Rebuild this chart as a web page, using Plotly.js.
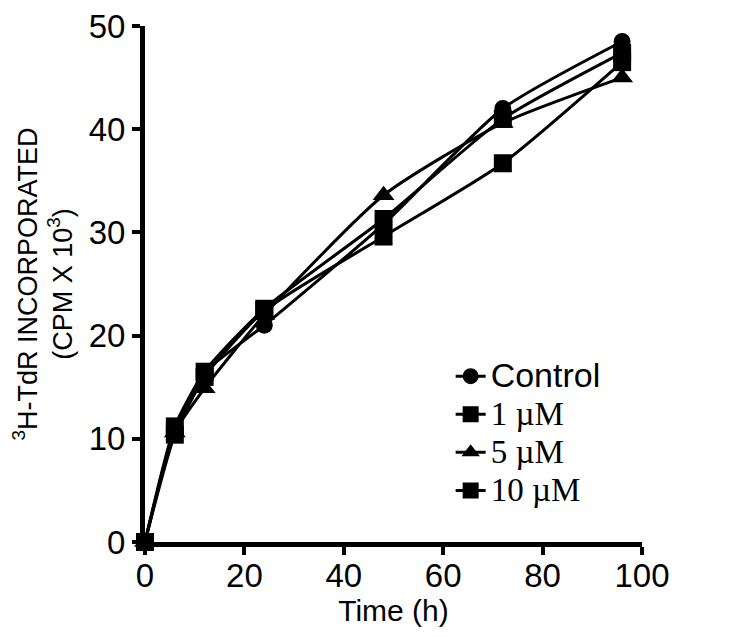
<!DOCTYPE html>
<html>
<head>
<meta charset="utf-8">
<script src="https://cdn.plot.ly/plotly-3.0.1.min.js"></script>
<style>html,body{margin:0;padding:0;background:#fff;}#chart{width:750px;height:637px;}</style>
</head>
<body>
<div id="chart"></div>
<script>
const timeH = [0, 6, 12, 24, 48, 72, 96];
const control = [0, 10.8, 16.4, 21.0, 30.8, 42.0, 48.5];
const uM1 = [0, 11.2, 16.5, 22.6, 31.3, 41.0, 47.4];
const uM5 = [0, 10.6, 14.9, 22.0, 33.6, 40.6, 45.0];
const uM10 = [0, 10.4, 16.0, 22.4, 29.6, 36.7, 46.5];
const names = ['Control', '1 µM', '5 µM', '10 µM'];

const sans = s => '<span style="font-family:\'Liberation Sans\',Arial,sans-serif;font-size:34px">' + s + '</span>';
const serif = s => '<span style="font-size:33px">' + s + '</span>';

function tr(y, name, sym, size) {
  return {
    x: timeH, y: y, name: name, type: 'scatter', mode: 'lines+markers',
    line: {color: '#000', width: 3, shape: 'spline', smoothing: 0.6},
    marker: {symbol: sym, size: size, color: '#000'},
    cliponaxis: false
  };
}
const data = [
  tr(control, sans(names[0]), 'circle', 17),
  tr(uM1, serif(names[1]), 'square', 18),
  tr(uM5, serif(names[2]), 'triangle-up', 19),
  tr(uM10, serif(names[3]), 'square', 18)
];

const layout = {
  width: 750, height: 637,
  margin: {l: 145, r: 108, t: 26, b: 95},
  paper_bgcolor: '#fff', plot_bgcolor: '#fff',
  font: {family: 'Liberation Sans, Arial, sans-serif', color: '#000', size: 30},
  showlegend: true,
  legend: {x: 0.615, y: 0.368, xanchor: 'left', yanchor: 'top', bgcolor: 'rgba(0,0,0,0)',
           font: {family: 'Liberation Serif, Times New Roman, serif', size: 27, color: '#000'},
           tracegroupgap: 0},
  xaxis: {
    range: [0, 100], tickvals: [0, 20, 40, 60, 80, 100], showgrid: false, zeroline: false,
    showline: true, linecolor: '#000', linewidth: 5, ticks: 'outside', ticklen: 8, tickwidth: 4,
    tickcolor: '#000', tickfont: {size: 33, color: '#000'}, ticklabelstandoff: -8,
    title: {text: 'Time (h)', font: {size: 30, color: '#000'}, standoff: 0}
  },
  yaxis: {
    range: [0, 50], tickvals: [0, 10, 20, 30, 40, 50], showgrid: false, zeroline: false,
    showline: true, linecolor: '#000', linewidth: 5, ticks: 'outside', ticklen: 8, tickwidth: 4,
    tickcolor: '#000', tickfont: {size: 33, color: '#000'},
    title: {text: '<sup>3</sup>H-TdR INCORPORATED<br>(CPM X 10<sup>3</sup>)', font: {size: 27, color: '#000'}, standoff: 10}
  }
};
Plotly.newPlot('chart', data, layout, {displayModeBar: false, staticPlot: true});
</script>
</body>
</html>
